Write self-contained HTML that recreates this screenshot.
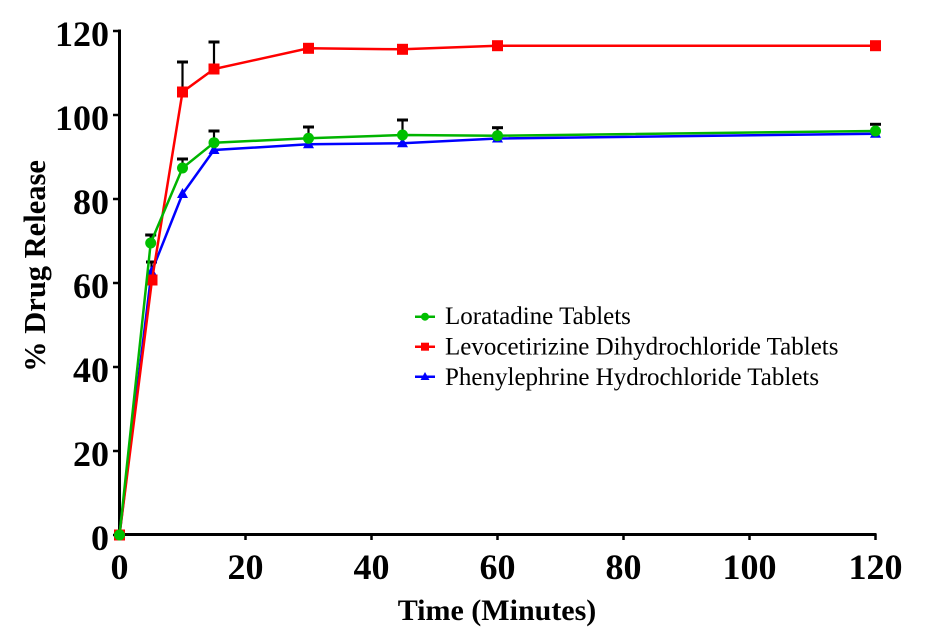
<!DOCTYPE html>
<html>
<head>
<meta charset="utf-8">
<style>
html,body{margin:0;padding:0;background:#fff;}
svg{display:block;}
text{font-family:"Liberation Serif","Times New Roman",serif;}
.tk{font-size:36px;font-weight:bold;fill:#000;}
.ttl{font-size:30px;font-weight:bold;fill:#000;}
.ttly{font-size:30.5px;font-weight:bold;fill:#000;}
.lg{font-size:25px;fill:#000;}
</style>
</head>
<body>
<svg width="936" height="638" viewBox="0 0 936 638" xmlns="http://www.w3.org/2000/svg">
<rect width="936" height="638" fill="#fff"/>

<!-- axes -->
<g stroke="#000" fill="none">
  <line x1="119.5" y1="29.5" x2="119.5" y2="536" stroke-width="3"/>
  <line x1="118" y1="534.5" x2="876.5" y2="534.5" stroke-width="3"/>
  <g stroke-width="2.5">
    <line x1="113" y1="535" x2="120" y2="535"/>
    <line x1="113" y1="451" x2="120" y2="451"/>
    <line x1="113" y1="367" x2="120" y2="367"/>
    <line x1="113" y1="283" x2="120" y2="283"/>
    <line x1="113" y1="199" x2="120" y2="199"/>
    <line x1="113" y1="115" x2="120" y2="115"/>
    <line x1="113" y1="31" x2="120" y2="31"/>
  </g>
  <g stroke-width="2.5">
    <line x1="119.5" y1="534" x2="119.5" y2="540"/>
    <line x1="245.5" y1="534" x2="245.5" y2="540"/>
    <line x1="371.5" y1="534" x2="371.5" y2="540"/>
    <line x1="497.5" y1="534" x2="497.5" y2="540"/>
    <line x1="623.5" y1="534" x2="623.5" y2="540"/>
    <line x1="749.5" y1="534" x2="749.5" y2="540"/>
    <line x1="875.5" y1="534" x2="875.5" y2="540"/>
  </g>
</g>

<!-- y tick labels -->
<g class="tk" text-anchor="end">
  <text x="109" y="550">0</text>
  <text x="109" y="466">20</text>
  <text x="109" y="382">40</text>
  <text x="109" y="298">60</text>
  <text x="109" y="214">80</text>
  <text x="109" y="130">100</text>
  <text x="109" y="46">120</text>
</g>
<!-- x tick labels -->
<g class="tk" text-anchor="middle">
  <text x="119.5" y="579">0</text>
  <text x="245.5" y="579">20</text>
  <text x="371.5" y="579">40</text>
  <text x="497.5" y="579">60</text>
  <text x="623.5" y="579">80</text>
  <text x="749.5" y="579">100</text>
  <text x="875.5" y="579">120</text>
</g>

<!-- axis titles -->
<text class="ttl" x="497" y="620" text-anchor="middle">Time (Minutes)</text>
<text class="ttly" transform="translate(45,266) rotate(-90)" x="0" y="0" text-anchor="middle">% Drug Release</text>

<!-- error bars -->
<g stroke="#000" stroke-width="2.2" fill="none">
  <line x1="151.5" y1="272" x2="151.5" y2="262"/>
  <line x1="146" y1="262" x2="157" y2="262" stroke-width="3"/>
  <line x1="182.5" y1="92" x2="182.5" y2="62"/>
  <line x1="177" y1="62" x2="188" y2="62" stroke-width="3"/>
  <line x1="214" y1="69" x2="214" y2="42"/>
  <line x1="208.5" y1="42" x2="219.5" y2="42" stroke-width="3"/>
  <line x1="150.7" y1="243" x2="150.7" y2="235"/>
  <line x1="145.2" y1="235" x2="156.2" y2="235" stroke-width="3"/>
  <line x1="182.5" y1="168" x2="182.5" y2="159"/>
  <line x1="177" y1="159" x2="188" y2="159" stroke-width="3"/>
  <line x1="214" y1="142.7" x2="214" y2="131"/>
  <line x1="208.5" y1="131" x2="219.5" y2="131" stroke-width="3"/>
  <line x1="308.5" y1="138.3" x2="308.5" y2="127"/>
  <line x1="303" y1="127" x2="314" y2="127" stroke-width="3"/>
  <line x1="402.5" y1="135" x2="402.5" y2="120"/>
  <line x1="397" y1="120" x2="408" y2="120" stroke-width="3"/>
  <line x1="497.5" y1="135.7" x2="497.5" y2="127.7"/>
  <line x1="492" y1="127.7" x2="503" y2="127.7" stroke-width="3"/>
  <line x1="875.5" y1="131" x2="875.5" y2="124.3"/>
  <line x1="870" y1="124.3" x2="881" y2="124.3" stroke-width="3"/>
</g>

<!-- blue series -->
<polyline fill="none" stroke="#0000ff" stroke-width="2.5" points="119.5,535 151.5,272 182.5,194 214,150 308.5,144.3 402.5,143.3 497.5,138.5 875.5,133.7"/>
<g fill="#0000ff">
  <polygon points="119.5,529 125,539 114,539"/>
  <polygon points="151.5,266 157,276 146,276"/>
  <polygon points="182.5,188 188,198 177,198"/>
  <polygon points="214,144 219.5,154 208.5,154"/>
  <polygon points="308.5,138.3 314,148.3 303,148.3"/>
  <polygon points="402.5,137.3 408,147.3 397,147.3"/>
  <polygon points="497.5,132.5 503,142.5 492,142.5"/>
  <polygon points="875.5,127.7 881,137.7 870,137.7"/>
</g>

<!-- red series -->
<polyline fill="none" stroke="#ff0000" stroke-width="2.5" points="119.5,535 152,280 182.5,92 214,69 308.5,48.3 402.5,49.3 497.5,45.7 875.5,45.7"/>
<g fill="#ff0000">
  <rect x="114" y="529.5" width="11" height="11"/>
  <rect x="146.5" y="274.5" width="11" height="11"/>
  <rect x="177" y="86.5" width="11" height="11"/>
  <rect x="208.5" y="63.5" width="11" height="11"/>
  <rect x="303" y="42.8" width="11" height="11"/>
  <rect x="397" y="43.8" width="11" height="11"/>
  <rect x="492" y="40.2" width="11" height="11"/>
  <rect x="870" y="40.2" width="11" height="11"/>
</g>

<!-- green series -->
<polyline fill="none" stroke="#00b400" stroke-width="2.5" points="119.5,535 150.7,243 182.5,168 214,142.7 308.5,138.3 402.5,135 497.5,135.7 875.5,131"/>
<g fill="#00c000">
  <circle cx="119.5" cy="535" r="5.5"/>
  <circle cx="150.7" cy="243" r="5.5"/>
  <circle cx="182.5" cy="168" r="5.5"/>
  <circle cx="214" cy="142.7" r="5.5"/>
  <circle cx="308.5" cy="138.3" r="5.5"/>
  <circle cx="402.5" cy="135" r="5.5"/>
  <circle cx="497.5" cy="135.7" r="5.5"/>
  <circle cx="875.5" cy="131" r="5.5"/>
</g>

<!-- legend -->
<g stroke-width="2.5">
  <line x1="415" y1="316.7" x2="435" y2="316.7" stroke="#00b400"/>
  <circle cx="425" cy="316.7" r="4" fill="#00c000"/>
  <line x1="415" y1="346.7" x2="435" y2="346.7" stroke="#ff0000"/>
  <rect x="421" y="342.7" width="8" height="8" fill="#ff0000"/>
  <line x1="415" y1="376.7" x2="435" y2="376.7" stroke="#0000ff"/>
  <polygon points="425,372 429.5,380 420.5,380" fill="#0000ff"/>
</g>
<g class="lg">
  <text x="445" y="324">Loratadine Tablets</text>
  <text x="445" y="354.5">Levocetirizine Dihydrochloride Tablets</text>
  <text x="445" y="385">Phenylephrine Hydrochloride Tablets</text>
</g>
</svg>
</body>
</html>
